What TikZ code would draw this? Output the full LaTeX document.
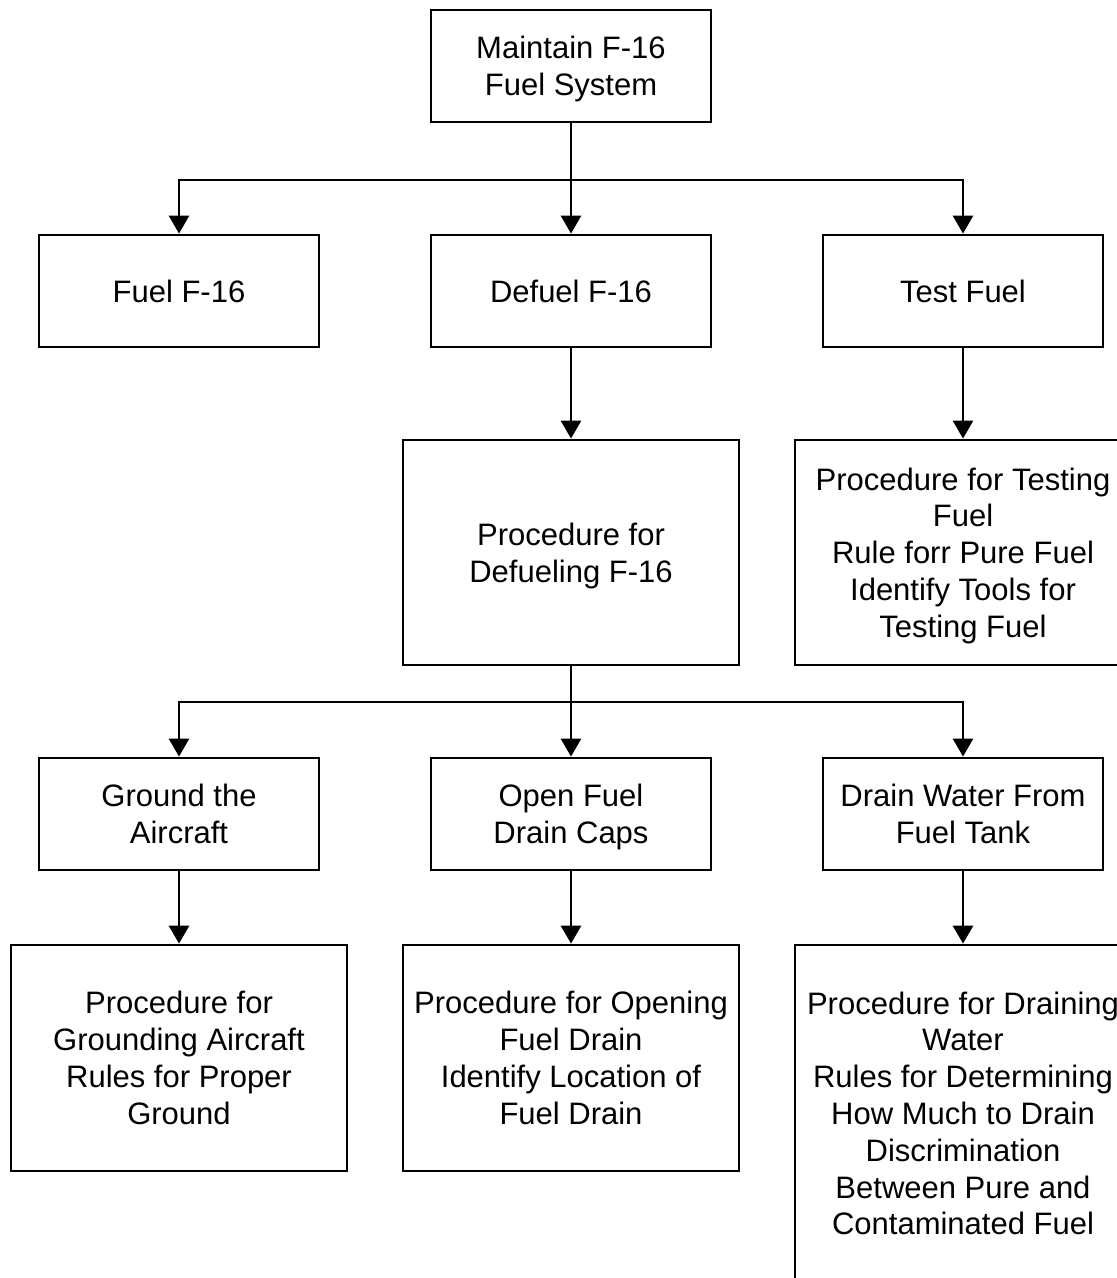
\documentclass[tikz,border=0pt]{standalone}
\usepackage{fontspec}
\setmainfont{Liberation Sans}
\usetikzlibrary{arrows.meta}
\newcommand\nodepth[1]{\raisebox{0pt}[\height][0pt]{#1}}
\begin{document}
\begin{tikzpicture}[x=1pt,y=-1pt,
  box/.style={draw,line width=2.8pt,rectangle,align=center,inner sep=0pt,
    font=\fontsize{31}{36.8}\selectfont},
  small/.style={box,minimum width=280pt,minimum height=112pt},
  big/.style={box,minimum width=336pt},
  link/.style={line width=2.8pt},
  arr/.style={link,-{Triangle[width=20pt,length=18pt]}}]
\useasboundingbox (0,0) rectangle (1117,1278);
\clip (0,0) rectangle (1117,1278);
\fill[white] (0,0) rectangle (1117,1278);
% nodes
\node[small] (top) at (571,66) {Maintain F-16\\\nodepth{Fuel System}};
\node[small] (fuel) at (179,291) {Fuel F-16};
\node[small] (defuel) at (571,291) {Defuel F-16};
\node[small] (test) at (963,291) {Test Fuel};
\node[big,minimum height=225pt] (pdefuel) at (571,552.5) {Procedure for\\\nodepth{Defueling F-16}};
\node[big,minimum height=225pt] (ptest) at (963,552.5) {Procedure for Testing\\Fuel\\Rule forr Pure Fuel\\Identify Tools for\\\nodepth{Testing Fuel}};
\node[small] (ground) at (179,814) {Ground the\\Aircraft};
\node[small] (open) at (571,814) {Open Fuel\\\nodepth{Drain Caps}};
\node[small] (drain) at (963,814) {Drain Water From\\Fuel Tank};
\node[big,minimum height=226pt] (pground) at (179,1058) {Procedure for\\Grounding Aircraft\\Rules for Proper\\Ground};
\node[big,minimum height=226pt] (popen) at (571,1058) {Procedure for Opening\\Fuel Drain\\Identify Location of\\Fuel Drain};
\node[big,minimum height=337pt] (pdrain) at (963,1113.5) {Procedure for Draining\\Water\\Rules for Determining\\How Much to Drain\\Discrimination\\Between Pure and\\Contaminated Fuel};
% connectors
\coordinate (b1) at (571,180);
\coordinate (b2) at (571,702);
\draw[link] (top.south) -- (b1);
\draw[arr] (b1) -| (fuel.north);
\draw[arr] (b1) -- (defuel.north);
\draw[arr] (b1) -| (test.north);
\draw[arr] (defuel.south) -- (pdefuel.north);
\draw[arr] (test.south) -- (ptest.north);
\draw[link] (pdefuel.south) -- (b2);
\draw[arr] (b2) -| (ground.north);
\draw[arr] (b2) -- (open.north);
\draw[arr] (b2) -| (drain.north);
\draw[arr] (ground.south) -- (pground.north);
\draw[arr] (open.south) -- (popen.north);
\draw[arr] (drain.south) -- (pdrain.north);
\end{tikzpicture}
\end{document}
